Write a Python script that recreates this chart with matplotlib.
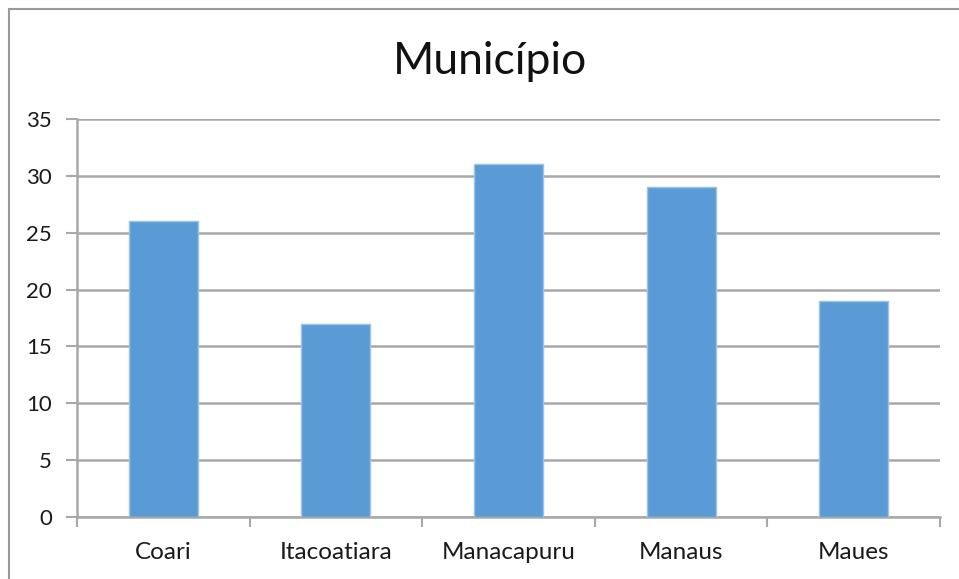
import matplotlib.pyplot as plt
from matplotlib.patches import Rectangle

# dados por município
municipios = ["Coari", "Itacoatiara", "Manacapuru", "Manaus", "Maues"]
valores = [26, 17, 31, 29, 19]
yticks = [0, 5, 10, 15, 20, 25, 30, 35]

plt.rcParams['font.family'] = ['Lato', 'DejaVu Sans']

fig = plt.figure(figsize=(9.59, 5.79), dpi=100)
fig.patch.set_facecolor("white")
ax = fig.add_axes([77 / 959, 1 - 517 / 579, (940 - 77) / 959, (517 - 119) / 579])

# moldura do gráfico (continua além da borda direita e inferior)
fig.patches.append(Rectangle((9 / 959, -0.1), 1.2, 1 - 9 / 579 + 0.1,
                             transform=fig.transFigure, fill=False,
                             edgecolor="#9a9a9a", linewidth=1.5))

x = range(len(municipios))
ax.bar(x, valores, width=0.4, color="#5B9BD5", edgecolor="#9cc3e8",
       linewidth=1.0, zorder=3)

ax.set_xlim(-0.5, len(municipios) - 0.5)
ax.set_ylim(0, 35)
ax.set_yticks(yticks)
ax.yaxis.grid(True, color="#a8a8a8", linewidth=1.8, zorder=0)

ax.set_xticks([i - 0.5 for i in range(len(municipios) + 1)], minor=False)
ax.set_xticklabels([])
ax.set_xticks(list(x), minor=True)
ax.set_xticklabels(municipios, minor=True, fontsize=17.5, color="#1a1a1a")
ax.tick_params(axis="x", which="major", length=7, width=1.5, color="#a8a8a8")
ax.tick_params(axis="x", which="minor", length=0, pad=18)
ax.tick_params(axis="y", length=8, width=1.5, color="#a8a8a8", pad=10,
               labelsize=16, labelcolor="#1a1a1a")

for s in ["top", "right"]:
    ax.spines[s].set_visible(False)
for s in ["left", "bottom"]:
    ax.spines[s].set_color("#a8a8a8")
    ax.spines[s].set_linewidth(1.8)

fig.text(490 / 959, 1 - 61 / 579, "Município", ha="center", va="center",
         fontsize=32, color="#111111")

fig.savefig("out.png", dpi=100)
